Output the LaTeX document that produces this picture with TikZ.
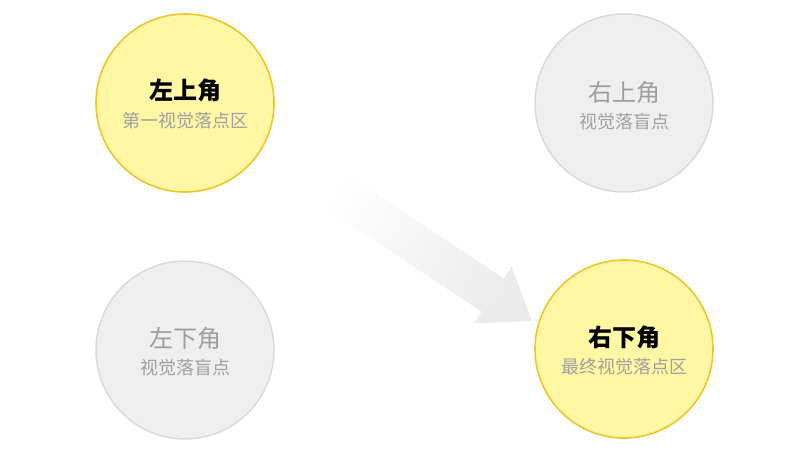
\documentclass[tikz,border=0pt]{standalone}
\usepackage{fontspec}
\newfontfamily\cjk{Noto Sans CJK SC}
\definecolor{yfill}{HTML}{FFF7A3}
\definecolor{yline}{HTML}{F0C52A}
\definecolor{gfill}{HTML}{EFEFEF}
\definecolor{gline}{HTML}{D9D9D9}
\definecolor{subgray}{HTML}{A0A0A0}
\definecolor{titlegray}{HTML}{9E9E9E}
\definecolor{arrowgray}{HTML}{EBEBEB}
\tikzset{
  hot/.style={circle, minimum size=178pt, inner sep=0pt, fill=yfill, draw=yline, line width=1.6pt},
  cold/.style={circle, minimum size=178pt, inner sep=0pt, fill=gfill, draw=gline, line width=1.4pt},
  hottitle/.style={font=\cjk\bfseries\fontsize{24}{26}\selectfont, text=black, inner sep=0pt},
  coldtitle/.style={font=\cjk\fontsize{24}{26}\selectfont, text=titlegray, inner sep=0pt},
  subtext/.style={font=\cjk\fontsize{18}{20}\selectfont, text=subgray, inner sep=0pt},
}
\begin{document}
\begin{tikzpicture}[x=1pt,y=-1pt]
\useasboundingbox[fill=white] (0,0) rectangle (800,450);
% arrow
\coordinate (a1) at (327,161.3);
\coordinate (a2) at (503.8,278.3);
\coordinate (a3) at (511.6,266.6);
\coordinate (tip) at (532,321);
\coordinate (a5) at (474.1,323.4);
\coordinate (a6) at (481.8,311.7);
\coordinate (a7) at (305,194.7);
\shade[top color=white, middle color=arrowgray!80, bottom color=arrowgray, shading angle=56.5]
  (a1) -- (a2) -- (a3) -- (tip) -- (a5) -- (a6) -- (a7) -- cycle;
% circles
\node[hot] (tl) at (185,103) {};
\node[cold] (tr) at (624,103) {};
\node[cold] (bl) at (185,350) {};
\node[hot] (br) at (624,349) {};
% texts
\node[hottitle] (tlt) at (185,90) {左上角};
\node[subtext] (tls) at (185,121) {第一视觉落点区};
\node[coldtitle] (trt) at (624,92) {右上角};
\node[subtext] (trs) at (624,122) {视觉落盲点};
\node[coldtitle] (blt) at (185,338) {左下角};
\node[subtext] (bls) at (185,368) {视觉落盲点};
\node[hottitle] (brt) at (624,337) {右下角};
\node[subtext] (brs) at (624,367) {最终视觉落点区};
\end{tikzpicture}
\end{document}
